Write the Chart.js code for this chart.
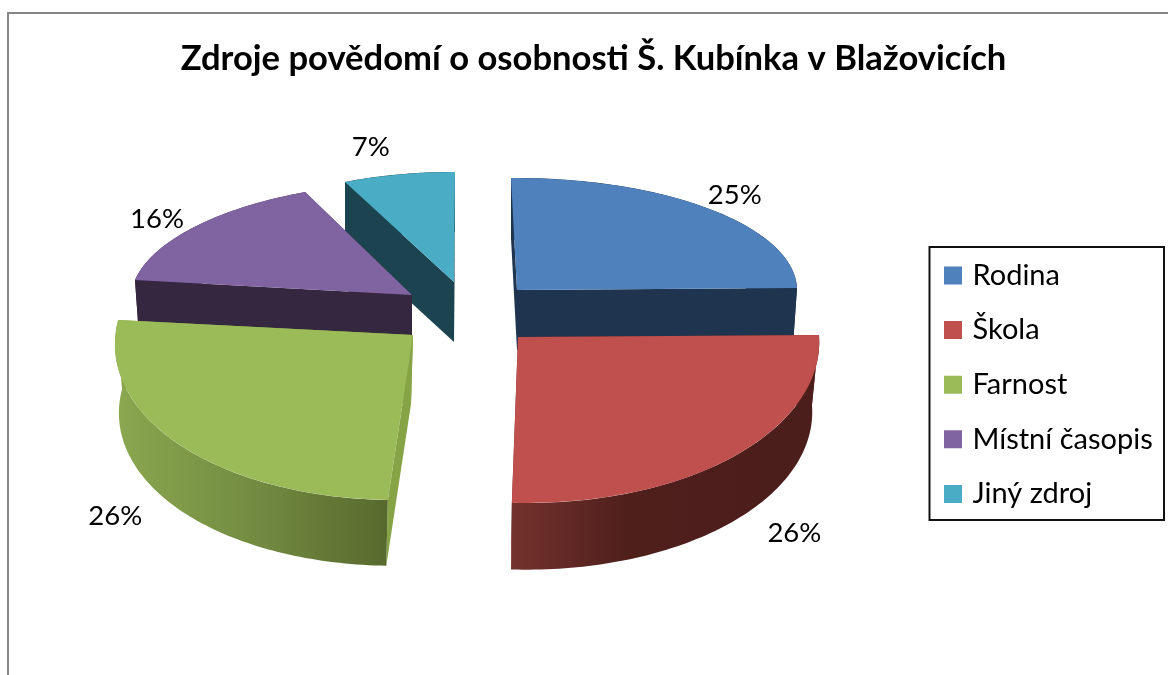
<!DOCTYPE html>
<html lang="cs">
<head>
<meta charset="utf-8">
<title>Zdroje povědomí</title>
<style>
html,body{margin:0;padding:0;background:#fff;width:1168px;height:675px;overflow:hidden}
#frame{position:absolute;left:7px;top:12px;right:-4px;bottom:-4px;border:2px solid #868686}
canvas{position:absolute;left:0;top:0}
</style>
<script src="https://cdn.jsdelivr.net/npm/chart.js@4/dist/chart.umd.min.js"></script>
</head>
<body>
<div id="frame"></div>
<canvas id="c" width="1168" height="675"></canvas>
<script>
const titleText = 'Zdroje povědomí o osobnosti Š. Kubínka v Blažovicích';
const categories = ['Rodina', 'Škola', 'Farnost', 'Místní časopis', 'Jiný zdroj'];
const shares = [25, 26, 26, 16, 7];
const faceColors = ['#4f81bd', '#c0504d', '#9bbb59', '#8064a2', '#4bacc6'];

// Perspective of every exploded slice: unit circle -> screen (affine)
const sliceViews = [
  {ox:517, oy:290, rx:280, m:-2,  k:6,     ry:112},
  {ox:518, oy:337, rx:301, m:-2,  k:12.8,  ry:166},
  {ox:413, oy:335, rx:298, m:-5.7,k:-6.5,  ry:165},
  {ox:412, oy:295, rx:281, m:0.8, k:-14.1, ry:113.4},
  {ox:454, oy:282, rx:258, m:1.2, k:-1,    ry:110}
];
// Extrusion of every slice
const sliceDepths = [
  {dx:0,  dy:60, s:0.985},
  {dx:-1, dy:70, s:0.98},
  {dx:-2, dy:69, s:0.98},
  {dx:0,  dy:58, s:0.985},
  {dx:0,  dy:60, s:1}
];
const edgeColors = [
  ['#1f344f', '#1f344f'],
  ['#4f1f1c', '#6e2f2b'],
  ['#86a346', '#86a346'],
  ['#35273f', '#35273f'],
  ['#1c4450', '#1c4450']
];
const rimStops = [
  [[0,'#1f344f'],[1,'#1f344f']],
  [[0,'#74322e'],[0.38,'#4f1f1c'],[1,'#4b1d1b']],
  [[0,'#8ba74f'],[0.5,'#738c42'],[1,'#58692d']],
  [[0,'#35273f'],[1,'#35273f']],
  [[0,'#1c4450'],[1,'#1c4450']]
];
const labelNudges = [[24,-14],[61,76],[-64,72],[-36,-9],[-28,-27]];
const drawOrder = [4, 3, 0, 2, 1];
const legendFrame = {x:929.5, y:247, w:234.5, h:273};
const legendAnchor = {x:948, y:261};
const legendGap = 25.6;

function project(v, a, d) {
  const c = Math.cos(a), s = Math.sin(a);
  if (!d) return [v.ox + v.rx*c + v.k*s, v.oy + v.m*c + v.ry*s];
  return [v.ox + d.dx + d.s*(v.rx*c + v.k*s), v.oy + d.dy + d.s*(v.m*c + v.ry*s)];
}
function poly(ctx, pts, fill) {
  ctx.beginPath();
  pts.forEach((p,i)=> i ? ctx.lineTo(p[0],p[1]) : ctx.moveTo(p[0],p[1]));
  ctx.closePath();
  ctx.fillStyle = fill; ctx.fill();
}

const pie3d = {
  id:'pie3d',
  afterLayout(chart){
    const t = chart.titleBlock, l = chart.legend;
    t.left = 19; t.right = 1168; t.top = 38; t.bottom = 88;
    const h = l.bottom - l.top, w = l.right - l.left;
    l.left = legendAnchor.x - legendGap; l.top = legendAnchor.y - legendGap;
    l.right = l.left + w; l.bottom = l.top + h;
  },
  beforeDatasetsDraw(chart){
    const ctx = chart.ctx, meta = chart.getDatasetMeta(0);
    drawOrder.forEach(i=>{
      const el = meta.data[i], v = sliceViews[i], d = sliceDepths[i];
      const a1 = el.startAngle, a2 = el.endAngle;
      const apexT = [v.ox, v.oy], apexB = [v.ox+d.dx, v.oy+d.dy];
      poly(ctx,[apexT,project(v,a1),project(v,a1,d),apexB],edgeColors[i][0]);
      poly(ctx,[apexT,project(v,a2),project(v,a2,d),apexB],edgeColors[i][1]);
      const top=[],bot=[];
      for(let n=0;n<=80;n++){
        const a=a1+(a2-a1)*n/80;
        top.push(project(v,a)); bot.unshift(project(v,a,d));
      }
      const xs=top.concat(bot).map(p=>p[0]);
      const g=ctx.createLinearGradient(Math.min(...xs),0,Math.max(...xs),0);
      rimStops[i].forEach(s=>g.addColorStop(s[0],s[1]));
      poly(ctx,top.concat(bot),g);
      const R = el.outerRadius;
      ctx.save();
      ctx.translate(v.ox,v.oy);
      ctx.transform(v.rx/R,v.m/R,v.k/R,v.ry/R,0,0);
      ctx.translate(-el.x,-el.y);
      el.draw(ctx,chart.chartArea);
      ctx.restore();
    });
    const total = shares.reduce((a,b)=>a+b,0);
    ctx.save();
    ctx.font = '27.5px Lato'; ctx.fillStyle='#000';
    ctx.textAlign='center'; ctx.textBaseline='middle';
    meta.data.forEach((el,i)=>{
      const p = project(sliceViews[i],(el.startAngle+el.endAngle)/2);
      ctx.fillText(Math.round(shares[i]/total*100)+'%',p[0]+labelNudges[i][0],p[1]+labelNudges[i][1]);
    });
    ctx.restore();
    return false;
  },
  afterDraw(chart){
    const ctx=chart.ctx;
    ctx.save();
    ctx.strokeStyle='#111'; ctx.lineWidth=2;
    ctx.strokeRect(legendFrame.x,legendFrame.y,legendFrame.w,legendFrame.h);
    ctx.restore();
  }
};

new Chart(document.getElementById('c'),{
  type:'pie',
  data:{labels:categories,datasets:[{data:shares,backgroundColor:faceColors,borderWidth:0}]},
  plugins:[pie3d],
  options:{
    responsive:false,animation:false,
    layout:{padding:0},
    plugins:{
      tooltip:{enabled:false},
      title:{display:true,text:titleText,color:'#000',padding:0,
        font:{family:'Lato',size:34.6,weight:'bold',lineHeight:1.2}},
      legend:{position:'right',align:'start',
        labels:{
          color:'#000',padding:legendGap,boxWidth:10,boxHeight:10,
          font:{family:'Lato',size:29},
          generateLabels(chart){
            return Chart.overrides.pie.plugins.legend.labels.generateLabels(chart).map(it=>{
              it.strokeStyle=it.fillStyle; it.lineWidth=8; return it;
            });
          }
        }
      }
    }
  }
});
</script>
</body>
</html>
